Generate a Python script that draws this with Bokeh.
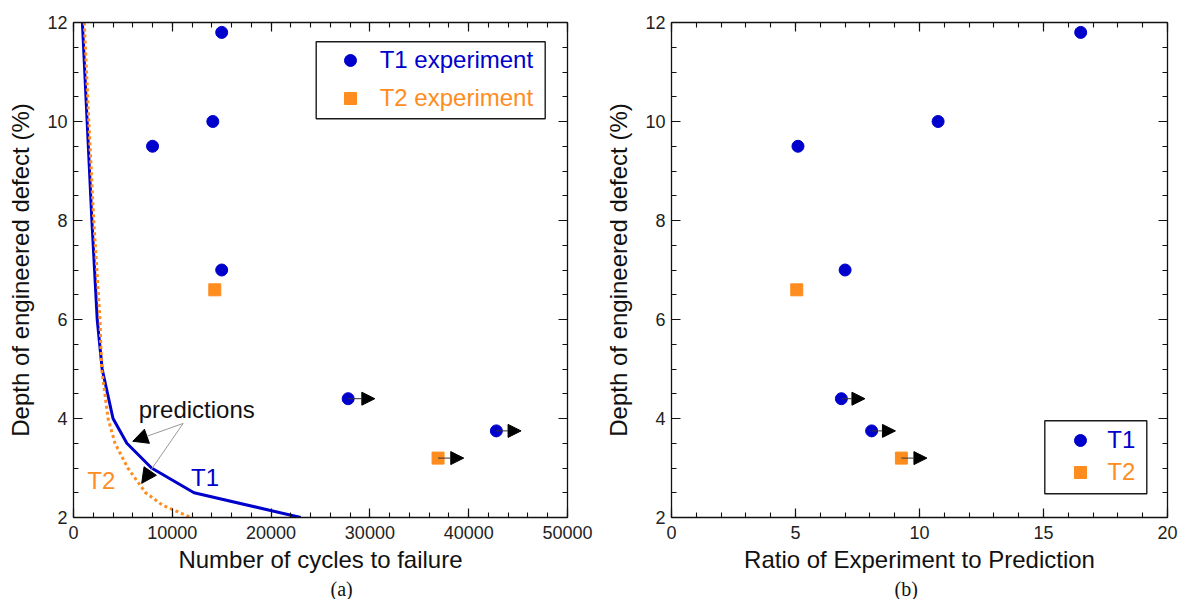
from bokeh.plotting import figure
from bokeh.models import (Range1d, LinearAxis, SingleIntervalTicker, Legend, LegendItem,
                          Arrow, NormalHead, Label, BoxAnnotation, ColumnDataSource,
                          BasicTickFormatter, CustomJSTickFormatter, Title)
from bokeh.layouts import row
from bokeh.embed import file_html
from bokeh.resources import INLINE

BLUE = "#0000CC"
ORANGE = "#FF8C1E"
FONT = "Liberation Sans"

# ---- data ----
t1_depth = [11.8, 10.0, 9.5, 7.0, 4.4, 3.75]
t1_cycles = [15000, 14100, 8000, 15000, 27800, 42800]
t1_ratio = [16.5, 10.75, 5.1, 7.0, 6.85, 8.07]
t2_depth = [6.6, 3.2]
t2_cycles = [14300, 36900]
t2_ratio = [5.05, 9.27]

pred_t1_depth = [12, 10, 8, 6, 5, 4, 3.5, 3, 2.5, 2]
pred_t1_cycles = [900, 1380, 1860, 2400, 2900, 4000, 5400, 7900, 12200, 23000]
pred_t2_depth = [12, 10, 8, 6, 5, 4, 3.5, 3, 2.5, 2.25, 2]
pred_t2_cycles = [1090, 1550, 2050, 2680, 2850, 3500, 4200, 5500, 7300, 9000, 11900]

# run-out tests (no failure): start value and arrow tip
runout_depth = [4.4, 3.75, 3.2]
runout_cycles = [27800, 42800, 36900]
runout_cycles_tip = [30500, 45300, 39500]
runout_ratio = [6.85, 8.07, 9.27]
runout_ratio_tip = [7.8, 9.03, 10.3]

x_ticks_cycles = (0, 50000, 10000, 5)
x_ticks_ratio = (0, 20, 5, 5)


def make_fig(xt, frame_w, bl, br, xlabel, caption, cap_offset):
    lo, hi, interval, nminor = xt
    p = figure(x_range=Range1d(lo, hi), y_range=Range1d(2, 12),
               frame_width=frame_w, frame_height=495,
               min_border_left=bl, min_border_right=br,
               min_border_top=22, min_border_bottom=80,
               output_backend="svg", toolbar_location=None,
               x_axis_label=xlabel, y_axis_label="Depth of engineered defect (%)")
    p.grid.visible = False
    p.outline_line_color = None
    xa = p.below[0]
    ya = p.left[0]
    xt_ = SingleIntervalTicker(interval=interval, num_minor_ticks=nminor)
    yt_ = SingleIntervalTicker(interval=2, num_minor_ticks=4)
    xa.ticker = xt_
    ya.ticker = yt_
    xa.formatter = BasicTickFormatter(use_scientific=False)
    top = LinearAxis(ticker=xt_, formatter=CustomJSTickFormatter(code="return ''"))
    right = LinearAxis(ticker=yt_, formatter=CustomJSTickFormatter(code="return ''"))
    p.add_layout(top, "above")
    p.add_layout(right, "right")
    for ax in [xa, ya, top, right]:
        ax.axis_line_color = "#111111"
        ax.axis_line_width = 1.3
        ax.major_tick_line_color = "#111111"
        ax.minor_tick_line_color = "#111111"
        ax.major_tick_line_width = 1.2
        ax.minor_tick_line_width = 1.1
        ax.major_tick_in = 9
        ax.major_tick_out = 0
        ax.minor_tick_in = 5
        ax.minor_tick_out = 0
        ax.major_label_text_font = FONT
        ax.major_label_text_font_size = "18px"
        ax.major_label_text_color = "#222222"
        ax.axis_label_text_font = FONT
        ax.axis_label_text_font_size = "24px"
        ax.axis_label_text_font_style = "normal"
        ax.axis_label_text_color = "#111111"
    xa.major_label_standoff = 8
    xa.axis_label_standoff = 4
    ya.major_label_standoff = 6
    ya.axis_label_standoff = 10
    top.major_label_standoff = 0
    right.major_label_standoff = 0
    p.add_layout(Title(text=caption, align="left", offset=cap_offset, standoff=0,
                       text_font="Liberation Serif", text_font_size="20px",
                       text_font_style="normal", text_color="#111111"), "below")
    return p


def add_legend(p, r1, r2, lab1, lab2, vx, vy1, vy2, stand, box):
    for r, lab, col, vy in [(r1, lab1, BLUE, vy1), (r2, lab2, ORANGE, vy2)]:
        lg = Legend(items=[LegendItem(label=lab, renderers=[r])], location=(vx, vy),
                    padding=0, margin=0, spacing=0, glyph_width=30, glyph_height=30,
                    label_standoff=stand, label_text_font=FONT, label_text_font_size="24px",
                    label_text_color=col, border_line_color=None, background_fill_alpha=0)
        p.add_layout(lg)
    l, r, b, t = box
    p.add_layout(BoxAnnotation(left=l, right=r, bottom=b, top=t,
                               left_units="screen", right_units="screen",
                               bottom_units="screen", top_units="screen",
                               fill_alpha=0, line_color="#1a1a1a", line_alpha=1.0,
                               line_width=1.4))


def add_runouts(p, xs, xe):
    src = ColumnDataSource(dict(xs=xs, xe=xe, y=runout_depth))
    p.add_layout(Arrow(source=src, x_start="xs", y_start="y", x_end="xe", y_end="y",
                       line_color="#333333", line_width=1,
                       end=NormalHead(size=13, fill_color="black", line_color="black", line_width=1)))


# ---------------- (a) ----------------
pa = make_fig(x_ticks_cycles, 494, 73, 30, "Number of cycles to failure", "(a)", 257)
pa.line(pred_t1_cycles, pred_t1_depth, line_color=BLUE, line_width=3)
pa.line(pred_t2_cycles, pred_t2_depth, line_color=ORANGE, line_width=3, line_dash="3 3")
ra1 = pa.scatter(t1_cycles, t1_depth, marker="circle", size=12, fill_color=BLUE, line_color=BLUE)
ra2 = pa.scatter(t2_cycles, t2_depth, marker="square", size=12, fill_color=ORANGE, line_color=ORANGE)
add_runouts(pa, runout_cycles, runout_cycles_tip)

for xe, ye in [(6000, 3.54), (6900, 2.69)]:
    pa.add_layout(Arrow(x_start=11100, y_start=3.9, x_end=xe, y_end=ye,
                        line_color="#999999", line_width=1,
                        end=NormalHead(size=15, fill_color="black", line_color="black", line_width=1)))
pa.add_layout(Label(x=6600, y=4.18, text="predictions", text_baseline="middle",
                    text_font=FONT, text_font_size="24px", text_color="#111111"))
pa.add_layout(Label(x=11900, y=2.81, text="T1", text_baseline="middle",
                    text_font=FONT, text_font_size="24px", text_color=BLUE))
pa.add_layout(Label(x=1390, y=2.74, text="T2", text_baseline="middle",
                    text_font=FONT, text_font_size="24px", text_color=ORANGE))
add_legend(pa, ra1, ra2, "T1 experiment", "T2 experiment", 261.7, 441.7, 403.7, 15,
           (242.7, 471.7, 398.7, 475.7))

# ---------------- (b) ----------------
pb = make_fig(x_ticks_ratio, 496, 74, 12, "Ratio of Experiment to Prediction", "(b)", 223)
rb1 = pb.scatter(t1_ratio, t1_depth, marker="circle", size=12, fill_color=BLUE, line_color=BLUE)
rb2 = pb.scatter(t2_ratio, t2_depth, marker="square", size=12, fill_color=ORANGE, line_color=ORANGE)
add_runouts(pb, runout_ratio, runout_ratio_tip)
add_legend(pb, rb1, rb2, "T1", "T2", 394.3, 61.7, 29.7, 12,
           (373.3, 475.3, 23.7, 96.7))

layout = row(pa, pb)
open("out.html", "w").write(file_html(layout, INLINE))
